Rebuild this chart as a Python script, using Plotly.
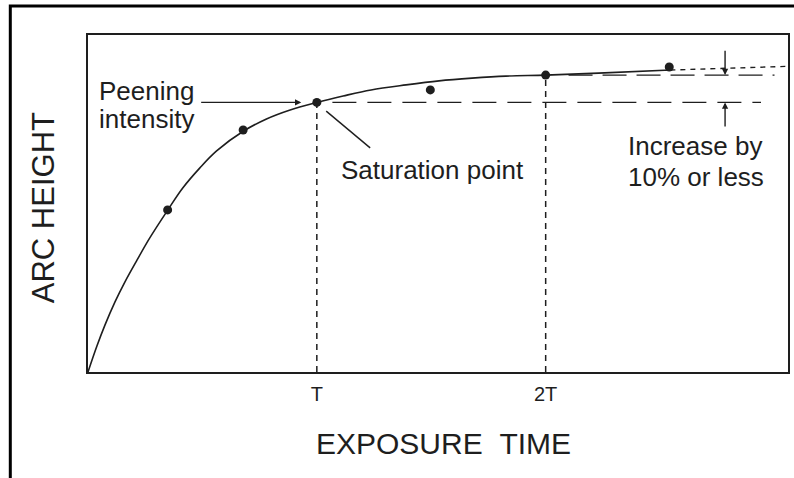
import plotly.graph_objects as go

# ---- data (exposure time in units of T, arc height in % of axis height) ----
curve_time = [0, 0.039, 0.074, 0.118, 0.161, 0.214, 0.270, 0.349, 0.414, 0.488,
              0.562, 0.680, 0.780, 0.880, 1.0, 1.115, 1.237, 1.390, 1.534, 1.678,
              1.826, 2.0, 2.231, 2.545]
curve_height = [0, 7.7, 13.9, 20.8, 26.7, 33.2, 39.8, 48.1, 54.6, 60.5,
                65.6, 71.5, 75.1, 77.7, 80.0, 81.9, 83.7, 85.2, 86.4, 87.2,
                87.8, 88.1, 88.7, 89.6]
extrap_time = [2.545, 3.059]
extrap_height = [89.6, 90.7]
point_time = [0.348, 0.678, 1.0, 1.496, 2.0, 2.54]
point_height = [48.1, 71.8, 80.0, 83.7, 88.1, 90.5]
sat_time, sat_height = 1.0, 80.0
double_time, double_height = 2.0, 88.1
sat_ref_span = [1.068, 2.941]
double_ref_span = [2.10, 3.00]
tick_vals = [1, 2]
tick_text = ["T", "2T"]

INK = "#1e1e1e"
FONT = "Liberation Sans, Arial, Helvetica, sans-serif"

fig = go.Figure()

# saturation curve (solid) and its dotted continuation
fig.add_trace(go.Scatter(x=curve_time, y=curve_height, mode="lines",
                         line=dict(color=INK, width=1.6, shape="spline", smoothing=1.0),
                         hoverinfo="skip"))
fig.add_trace(go.Scatter(x=extrap_time, y=extrap_height, mode="lines",
                         line=dict(color=INK, width=1.4, dash="5px,5px"),
                         hoverinfo="skip"))
# vertical dashed lines at T and 2T
fig.add_trace(go.Scatter(x=[sat_time, sat_time], y=[0, sat_height], mode="lines",
                         line=dict(color=INK, width=1.5, dash="6px,5px"),
                         hoverinfo="skip"))
fig.add_trace(go.Scatter(x=[double_time, double_time], y=[0, double_height], mode="lines",
                         line=dict(color=INK, width=1.5, dash="6px,5px"),
                         hoverinfo="skip"))
# horizontal long-dash reference lines
fig.add_trace(go.Scatter(x=sat_ref_span, y=[sat_height, sat_height], mode="lines",
                         line=dict(color=INK, width=1.4, dash="24px,11px"),
                         hoverinfo="skip"))
fig.add_trace(go.Scatter(x=double_ref_span, y=[double_height, double_height], mode="lines",
                         line=dict(color=INK, width=1.4, dash="24px,10px"),
                         hoverinfo="skip"))
# measured points
fig.add_trace(go.Scatter(x=point_time, y=point_height, mode="markers",
                         marker=dict(color=INK, size=9), hoverinfo="skip"))

ann = []
txt = dict(family=FONT, size=26, color=INK)
ann.append(dict(x=0.013, y=0.834, xref="paper", yref="paper", text="Peening",
                showarrow=False, xanchor="left", yanchor="middle", font=txt))
ann.append(dict(x=0.013, y=0.750, xref="paper", yref="paper", text="intensity",
                showarrow=False, xanchor="left", yanchor="middle", font=txt))
ann.append(dict(x=0.359, y=0.600, xref="paper", yref="paper", text="Saturation point",
                showarrow=False, xanchor="left", yanchor="middle", font=txt))
ann.append(dict(x=0.867, y=0.672, xref="paper", yref="paper", text="Increase by",
                showarrow=False, xanchor="center", yanchor="middle", font=txt))
ann.append(dict(x=0.868, y=0.580, xref="paper", yref="paper", text="10% or less",
                showarrow=False, xanchor="center", yanchor="middle", font=txt))
# arrows
arrow = dict(showarrow=True, text="", arrowhead=2, arrowsize=0.9, arrowwidth=1.4,
             arrowcolor=INK, xref="x", yref="y", axref="x", ayref="y")
ann.append(dict(arrow, x=0.932, y=sat_height, ax=0.488, ay=sat_height))
ann.append(dict(arrow, x=2.784, y=double_height, ax=2.784, ay=95.8))
ann.append(dict(arrow, x=2.784, y=sat_height, ax=2.784, ay=72.4))
# axis titles
ann.append(dict(x=-0.064, y=0.4866, xref="paper", yref="paper", text="ARC HEIGHT",
                showarrow=False, textangle=-90, xanchor="center", yanchor="middle",
                font=dict(family=FONT, size=31, color=INK)))
ann.append(dict(x=0.5085, y=-0.2136, xref="paper", yref="paper",
                text="EXPOSURE\u00a0\u00a0TIME",
                showarrow=False, xanchor="center", yanchor="middle",
                font=dict(family=FONT, size=30, color=INK)))

shapes = [
    # leader line from Saturation point label
    dict(type="line", xref="x", yref="y", x0=1.041, y0=77.4, x1=1.233, y1=66.5,
         line=dict(color=INK, width=1.4)),
    # outer frame (left and top edges)
    dict(type="path", xref="paper", yref="paper",
         path="M -0.111 -0.32 L -0.111 1.086 L 1.02 1.086",
         line=dict(color="#000", width=3)),
]

fig.update_layout(
    width=794, height=478,
    margin=dict(l=88, r=4, t=35, b=106),
    paper_bgcolor="white", plot_bgcolor="white",
    showlegend=False,
    annotations=ann, shapes=shapes,
    xaxis=dict(range=[0, 3.059], showgrid=False, zeroline=False,
               showline=True, mirror=True, linecolor=INK, linewidth=2,
               tickvals=tick_vals, ticktext=tick_text, ticks="",
               ticklabelstandoff=3,
               tickfont=dict(family=FONT, size=20, color=INK)),
    yaxis=dict(range=[0, 100], showgrid=False, zeroline=False,
               showline=True, mirror=True, linecolor=INK, linewidth=2,
               showticklabels=False, ticks=""),
)

fig.write_html("out.html",
               config={"displayModeBar": False},
               post_script="document.body.style.margin='0';document.body.style.overflow='hidden';")
